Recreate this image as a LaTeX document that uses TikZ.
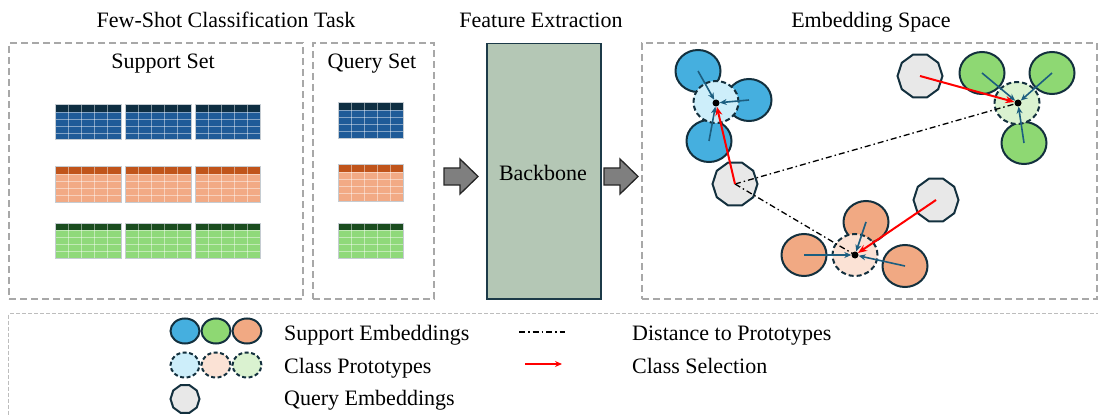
\documentclass[tikz,border=0pt]{standalone}
\usepackage{fontspec}
\setmainfont{Liberation Serif}
\usetikzlibrary{shapes.geometric,arrows.meta}
\definecolor{boxgray}{HTML}{A8A8A8}
\definecolor{leggray}{HTML}{BDBDBD}
\definecolor{edgec}{HTML}{13303E}
\definecolor{tealc}{HTML}{1C5E80}
\definecolor{bbfill}{HTML}{B4C7B5}
\definecolor{bbedge}{HTML}{1C3A48}
\definecolor{blockgray}{HTML}{7F7F7F}
\definecolor{bhead}{HTML}{0E2E42}
\definecolor{bbody}{HTML}{1F5B98}
\definecolor{ohead}{HTML}{C0541B}
\definecolor{obody}{HTML}{F2AA85}
\definecolor{ghead}{HTML}{1A4C1F}
\definecolor{gbody}{HTML}{8FD97A}
\definecolor{embblue}{HTML}{45AFDF}
\definecolor{embgreen}{HTML}{8ED873}
\definecolor{embor}{HTML}{F1A983}
\definecolor{protoblue}{HTML}{CDEEFA}
\definecolor{protoor}{HTML}{FBE2D5}
\definecolor{protogreen}{HTML}{DAF2D0}
\definecolor{qgray}{HTML}{E8E8E8}
\definecolor{tblborder}{HTML}{C5CCD2}
\newcommand\datatable[6]{%
  \fill[#6] (#1,#2) rectangle (#3,#4);
  \fill[#5] (#1,#2) rectangle (#3,{#2+7});
  \foreach \k in {1,2,3,4}{\draw[gridln] ({#1+\k*(#3-#1)/5},#2) -- ({#1+\k*(#3-#1)/5},#4);}
  \foreach \k in {0,1,2,3}{\draw[gridln] (#1,{#2+7+\k*(#4-#2-7)/4}) -- (#3,{#2+7+\k*(#4-#2-7)/4});}
  \draw[tblborder, line width=1pt] (#1,#2) rectangle (#3,#4);
}
\begin{document}
\begin{tikzpicture}[x=1pt,y=-1pt,
  txt/.style={font=\fontsize{22}{26}\selectfont, inner sep=0pt},
  grpbox/.style={draw=boxgray, line width=2pt, dash pattern=on 7pt off 4pt, inner sep=0pt, anchor=north west},
  legbox/.style={draw=leggray, line width=1.4pt, dash pattern=on 4pt off 2pt, inner sep=0pt, anchor=north west},
  gridln/.style={draw=white, draw opacity=0.45, line width=0.8pt},
  blockarrow/.style={fill=blockgray, draw=black!85, line width=1.3pt, line join=miter},
  semb/.style={ellipse, draw=edgec, line width=2pt, minimum width=45pt, minimum height=42pt, inner sep=0pt},
  proto/.style={semb, dash pattern=on 5pt off 3pt},
  qemb/.style={regular polygon, regular polygon sides=10, draw=edgec, fill=qgray, line width=2pt, minimum size=45pt, inner sep=0pt},
  lsemb/.style={ellipse, draw=edgec, line width=2pt, minimum width=29pt, minimum height=25pt, inner sep=0pt},
  lproto/.style={lsemb, dash pattern=on 4pt off 2.5pt},
  lqemb/.style={regular polygon, regular polygon sides=10, draw=edgec, fill=qgray, line width=2pt, minimum size=29pt, inner sep=0pt},
  dotn/.style={circle, fill=black, minimum size=7pt, inner sep=0pt},
  tarr/.style={-{Stealth[length=7pt,width=6pt]}, draw=tealc, line width=1.6pt},
  rarr/.style={-{Stealth[length=9pt,width=7pt]}, draw=red, line width=2pt},
  dd/.style={draw=black, line width=1.3pt, dash pattern=on 6pt off 3pt on 1.5pt off 3pt}
]
\useasboundingbox (0,0) rectangle (1098,417);

% titles
\node[txt, anchor=base] (t1) at (226,28) {Few-Shot Classification Task};
\node[txt, anchor=base] (t2) at (541,28) {Feature Extraction};
\node[txt, anchor=base] (t3) at (871,28) {Embedding Space};

% group boxes
\node[grpbox, minimum width=294pt, minimum height=256pt] (supbox) at (8,42) {};
\node[grpbox, minimum width=121pt, minimum height=256pt] (qrybox) at (312,42) {};
\node[grpbox, minimum width=455pt, minimum height=256pt] (embbox) at (641,42) {};
\node[legbox, minimum width=1100pt, minimum height=115pt] (legboxn) at (8,313) {};

\node[txt, anchor=base] (suptitle) at (163,69) {Support Set};
\node[txt, anchor=base] (qrytitle) at (372,69) {Query Set};

% tables
\datatable{55}{105}{121}{140}{bhead}{bbody}
\datatable{125}{105}{191}{140}{bhead}{bbody}
\datatable{195}{105}{260}{140}{bhead}{bbody}
\datatable{55}{167}{121}{202}{ohead}{obody}
\datatable{125}{167}{191}{202}{ohead}{obody}
\datatable{195}{167}{260}{202}{ohead}{obody}
\datatable{55}{223}{121}{258}{ghead}{gbody}
\datatable{125}{223}{191}{258}{ghead}{gbody}
\datatable{195}{223}{260}{258}{ghead}{gbody}
\datatable{338}{103}{403}{139}{bhead}{bbody}
\datatable{338}{165}{403}{201}{ohead}{obody}
\datatable{338}{223}{403}{258}{ghead}{gbody}

% backbone
\node[draw=bbedge, fill=bbfill, line width=1.5pt, minimum width=114pt, minimum height=255pt, inner sep=0pt, anchor=north west] (bb) at (486,43) {};
\node[txt, anchor=base] (bbtext) at (543,181) {Backbone};

% block arrows
\draw[blockarrow] (444,168) -- (460,168) -- (460,159) -- (478,176.5) -- (460,194) -- (460,185) -- (444,185) -- cycle;
\draw[blockarrow] (604,168) -- (620,168) -- (620,159) -- (638,176.5) -- (620,194) -- (620,185) -- (604,185) -- cycle;

% embedding space: support embeddings
\node[semb, fill=embblue] (b1) at (698,71) {};
\node[semb, fill=embblue] (b2) at (749,100) {};
\node[semb, fill=embblue] (b3) at (709,141) {};
\node[semb, fill=embgreen] (g1) at (982,73) {};
\node[semb, fill=embgreen] (g2) at (1052,73) {};
\node[semb, fill=embgreen] (g3) at (1024,143) {};
\node[semb, fill=embor] (o1) at (866,222) {};
\node[semb, fill=embor] (o2) at (804,255) {};
\node[semb, fill=embor] (o3) at (905,266) {};
% prototypes
\node[proto, fill=protoblue] (bp) at (716,102) {};
\node[proto, fill=protogreen] (gp) at (1017,103) {};
\node[proto, fill=protoor] (op) at (855,255) {};
% queries
\node[qemb] (q1) at (920,76) {};
\node[qemb] (q2) at (735,184) {};
\node[qemb] (q3) at (936,200) {};
% prototype centres
\node[dotn] (bd) at (716,103) {};
\node[dotn] (gd) at (1018,103) {};
\node[dotn] (od) at (855,255) {};

% arrows to prototypes
\draw[tarr] (b1.center) -- (bd);
\draw[tarr] (b2.center) -- (bd);
\draw[tarr] (b3.center) -- (bd);
\draw[tarr] (g1.center) -- (gd);
\draw[tarr] (g2.center) -- (gd);
\draw[tarr] (g3.center) -- (gd);
\draw[tarr] (o1.center) -- (od);
\draw[tarr] (o2.center) -- (od);
\draw[tarr] (o3.center) -- (od);
% distances
\draw[dd] (q2.center) -- (gd.center);
\draw[dd] (q2.center) -- (od.center);
% class selection
\draw[rarr] (q1.center) -- (gd);
\draw[rarr] (q2.center) -- (bd);
\draw[rarr] (q3.center) -- (od);

% legend
\node[lsemb, fill=embblue] (lb) at (185,331) {};
\node[lsemb, fill=embgreen] (lg) at (216,331) {};
\node[lsemb, fill=embor] (lo) at (247,331) {};
\node[lproto, fill=protoblue] (lpb) at (185,365) {};
\node[lproto, fill=protoor] (lpo) at (216,365) {};
\node[lproto, fill=protogreen] (lpg) at (247,365) {};
\node[lqemb] (lq) at (185,399) {};
\node[txt, anchor=base west] (l1) at (284,340) {Support Embeddings};
\node[txt, anchor=base west] (l2) at (284,373) {Class Prototypes};
\node[txt, anchor=base west] (l3) at (284,405) {Query Embeddings};
\coordinate (dda) at (519,332);
\coordinate (ddb) at (565,332);
\draw[dd] (dda) -- (ddb);
\coordinate (ra) at (525,364);
\coordinate (rb) at (562,364);
\draw[rarr, -{Stealth[length=7pt,width=6pt]}] (ra) -- (rb);
\node[txt, anchor=base west] (l4) at (632,340) {Distance to Prototypes};
\node[txt, anchor=base west] (l5) at (632,373) {Class Selection};
\end{tikzpicture}
\end{document}
